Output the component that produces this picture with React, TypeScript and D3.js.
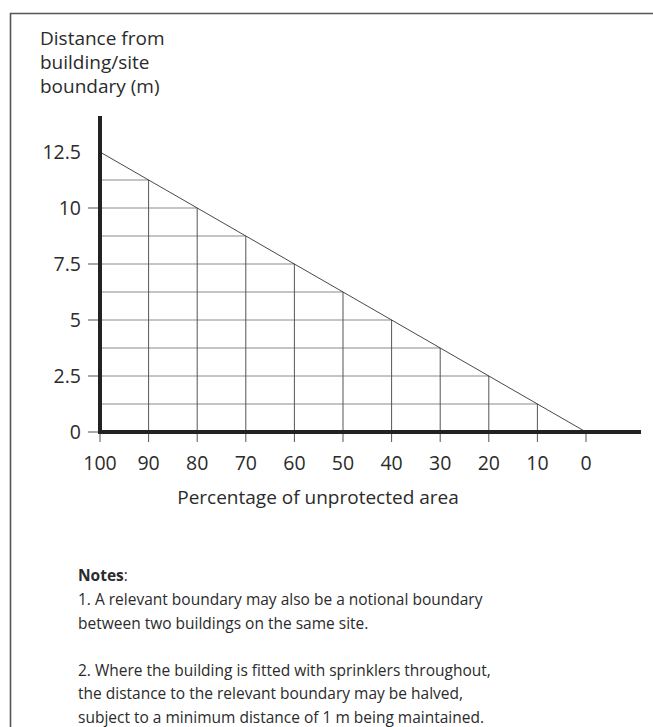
import React from 'react';
import * as d3 from 'd3';

// percentage of unprotected area (x) and distance to boundary in m (y)
const xTicks = [100, 90, 80, 70, 60, 50, 40, 30, 20, 10, 0];
const yTicks = [0, 2.5, 5, 7.5, 10, 12.5];
const yTickLabels = ['0', '2.5', '5', '7.5', '10', '12.5'];
// limit line: 100% -> 12.5 m, 0% -> 0 m
const limitLine = [
  { pct: 100, dist: 12.5 },
  { pct: 0, dist: 0 },
];
// vertical grid lines, each running up to the limit line
const gridPct = [90, 80, 70, 60, 50, 40, 30, 20, 10];
const gridPctTop = [11.25, 10, 8.75, 7.5, 6.25, 5, 3.75, 2.5, 1.25];
// horizontal grid lines, each running across to the limit line
const gridDist = [1.25, 2.5, 3.75, 5, 6.25, 7.5, 8.75, 10, 11.25];
const gridDistEnd = [10, 20, 30, 40, 50, 60, 70, 80, 90];

const yTitle = ['Distance from', 'building/site', 'boundary (m)'];
const xTitle = 'Percentage of unprotected area';
const notes = [
  '1. A relevant boundary may also be a notional boundary',
  'between two buildings on the same site.',
  '',
  '2. Where the building is fitted with sprinklers throughout,',
  'the distance to the relevant boundary may be halved,',
  'subject to a minimum distance of 1 m being maintained.',
];

const W = 653;
const H = 727;
const font = '"Open Sans", "Noto Sans", sans-serif';
const ink = '#2b2b2b';

const App: React.FC = () => {
  const x = d3.scaleLinear().domain([100, 0]).range([100, 586]);
  const y = d3.scaleLinear().domain([0, 12.5]).range([432, 152]);

  const line = d3.line<{ pct: number; dist: number }>()
    .x(d => x(d.pct))
    .y(d => y(d.dist));

  return (
    <svg
      width={W}
      height={H}
      style={{ position: 'absolute', left: 0, top: 0, background: '#fff' }}
      fontFamily={font}
    >
      {/* frame */}
      <path d={`M10.5,${H} V13.5 H${W}`} fill="none" stroke="#555" strokeWidth={1.6} />

      {/* y title */}
      {yTitle.map((t, i) => (
        <text key={t} x={40} y={45 + i * 24} fontSize={19} fill={ink}>{t}</text>
      ))}

      {/* grid */}
      {gridDist.map((d, i) => (
        <line key={'h' + d} x1={x(100)} x2={x(gridDistEnd[i])} y1={y(d)} y2={y(d)}
          stroke="#8a8a8a" strokeWidth={1} />
      ))}
      {gridPct.map((p, i) => (
        <line key={'v' + p} x1={x(p)} x2={x(p)} y1={y(0)} y2={y(gridPctTop[i])}
          stroke="#555" strokeWidth={1} />
      ))}
      <path d={line(limitLine) || ''} fill="none" stroke="#333" strokeWidth={0.9} />

      {/* y ticks */}
      {yTicks.map((v, i) => (
        <g key={'yt' + v}>
          {v < 12.5 && (
            <line x1={88} x2={x(100)} y1={y(v)} y2={y(v)} stroke="#555" strokeWidth={1} />
          )}
          <text x={81} y={y(v)} dy="0.35em" textAnchor="end" fontSize={19.5} fill={ink}>
            {yTickLabels[i]}
          </text>
        </g>
      ))}

      {/* x ticks */}
      {xTicks.map(v => (
        <g key={'xt' + v}>
          <line x1={x(v)} x2={x(v)} y1={y(0)} y2={y(0) + 10} stroke="#555" strokeWidth={1} />
          <text x={x(v)} y={470} textAnchor="middle" fontSize={19.5} fill={ink}>{v}</text>
        </g>
      ))}

      {/* axes */}
      <line x1={x(100)} x2={x(100)} y1={116} y2={y(0) + 2} stroke="#222" strokeWidth={4} />
      <line x1={x(100) - 2} x2={641} y1={y(0)} y2={y(0)} stroke="#222" strokeWidth={4} />

      <text x={318} y={504} textAnchor="middle" fontSize={19} fill={ink}>{xTitle}</text>

      {/* notes */}
      <text x={78} y={581} fontSize={15.5} fill={ink}>
        <tspan fontWeight="bold">Notes</tspan>:
      </text>
      {notes.map((t, i) => (
        <text key={i} x={78} y={605 + i * 23.5} fontSize={15.5} fill={ink}>{t}</text>
      ))}
    </svg>
  );
};

export default App;
